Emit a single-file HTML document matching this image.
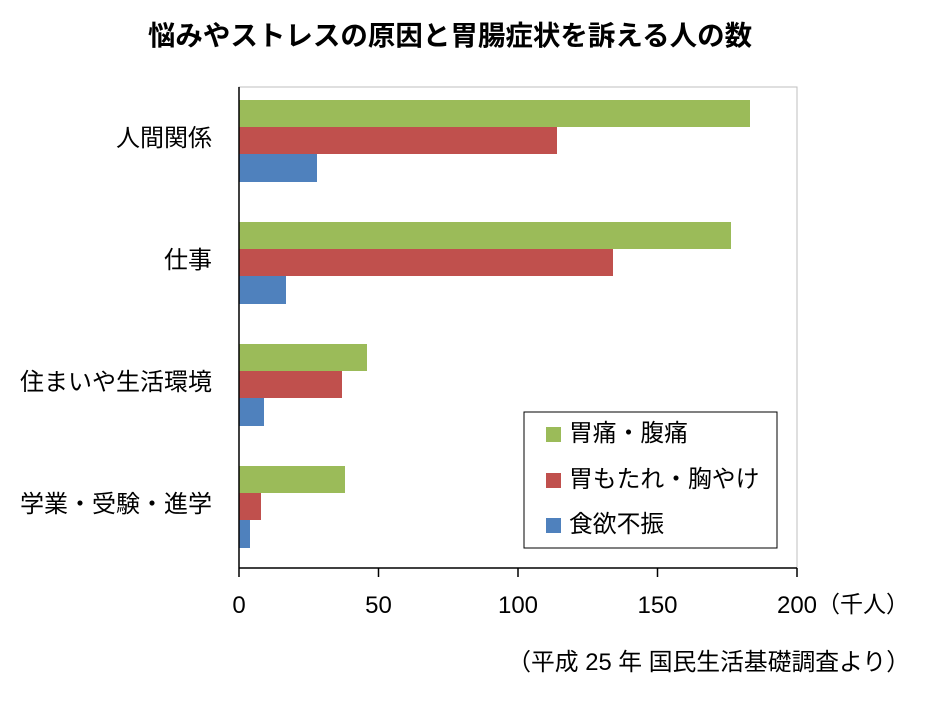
<!DOCTYPE html>
<html><head><meta charset="utf-8"><style>
body{margin:0;background:#fff}
svg text{font-family:"Liberation Sans","Noto Sans CJK JP",sans-serif;fill:#000}
</style></head><body>
<svg width="933" height="697" xmlns="http://www.w3.org/2000/svg">
<rect width="933" height="697" fill="#fff"/>
<text x="450" y="45" font-size="27.5" font-weight="bold" text-anchor="middle">悩みやストレスの原因と胃腸症状を訴える人の数</text>
<rect x="239" y="87" width="558" height="481" fill="none" stroke="#bfbfbf" stroke-width="1"/>
<g>
<rect x="239" y="100" width="511" height="27" fill="#9bbb59"/>
<rect x="239" y="127" width="318" height="27" fill="#c0504d"/>
<rect x="239" y="154" width="78" height="28" fill="#4f81bd"/>
<rect x="239" y="222" width="492" height="27" fill="#9bbb59"/>
<rect x="239" y="249" width="374" height="27" fill="#c0504d"/>
<rect x="239" y="276" width="47" height="28" fill="#4f81bd"/>
<rect x="239" y="344" width="128" height="27" fill="#9bbb59"/>
<rect x="239" y="371" width="103" height="27" fill="#c0504d"/>
<rect x="239" y="398" width="25" height="28" fill="#4f81bd"/>
<rect x="239" y="466" width="106" height="27" fill="#9bbb59"/>
<rect x="239" y="493" width="22" height="27" fill="#c0504d"/>
<rect x="239" y="520" width="11" height="28" fill="#4f81bd"/>
</g>
<line x1="239" y1="87" x2="239" y2="568" stroke="#000" stroke-width="1.5"/>
<line x1="239" y1="568" x2="797" y2="568" stroke="#000" stroke-width="1.5"/>
<g stroke="#000" stroke-width="1.5">
<line x1="239" y1="568" x2="239" y2="577"/><line x1="378.5" y1="568" x2="378.5" y2="577"/>
<line x1="518" y1="568" x2="518" y2="577"/><line x1="657.5" y1="568" x2="657.5" y2="577"/>
<line x1="797" y1="568" x2="797" y2="577"/>
</g>
<g font-size="24" text-anchor="middle">
<text x="239" y="613">0</text><text x="378.5" y="613">50</text><text x="518" y="613">100</text><text x="657.5" y="613">150</text><text x="797" y="613">200</text>
</g>
<text x="817" y="612" font-size="23">（千人）</text>
<g font-size="24" text-anchor="end">
<text x="212" y="146">人間関係</text>
<text x="212" y="268">仕事</text>
<text x="212" y="390">住まいや生活環境</text>
<text x="212" y="512">学業・受験・進学</text>
</g>
<text x="910" y="670" font-size="23.8" text-anchor="end">（平成 25 年  国民生活基礎調査より）</text>
<rect x="524" y="412" width="253" height="136" fill="#fff" stroke="#000" stroke-width="1"/>
<rect x="546" y="427" width="15" height="15" fill="#9bbb59"/>
<rect x="546" y="473" width="15" height="15" fill="#c0504d"/>
<rect x="546" y="518" width="15" height="15" fill="#4f81bd"/>
<g font-size="23.8">
<text x="569" y="441">胃痛・腹痛</text>
<text x="569" y="487">胃もたれ・胸やけ</text>
<text x="569" y="532">食欲不振</text>
</g>
</svg>
</body></html>
